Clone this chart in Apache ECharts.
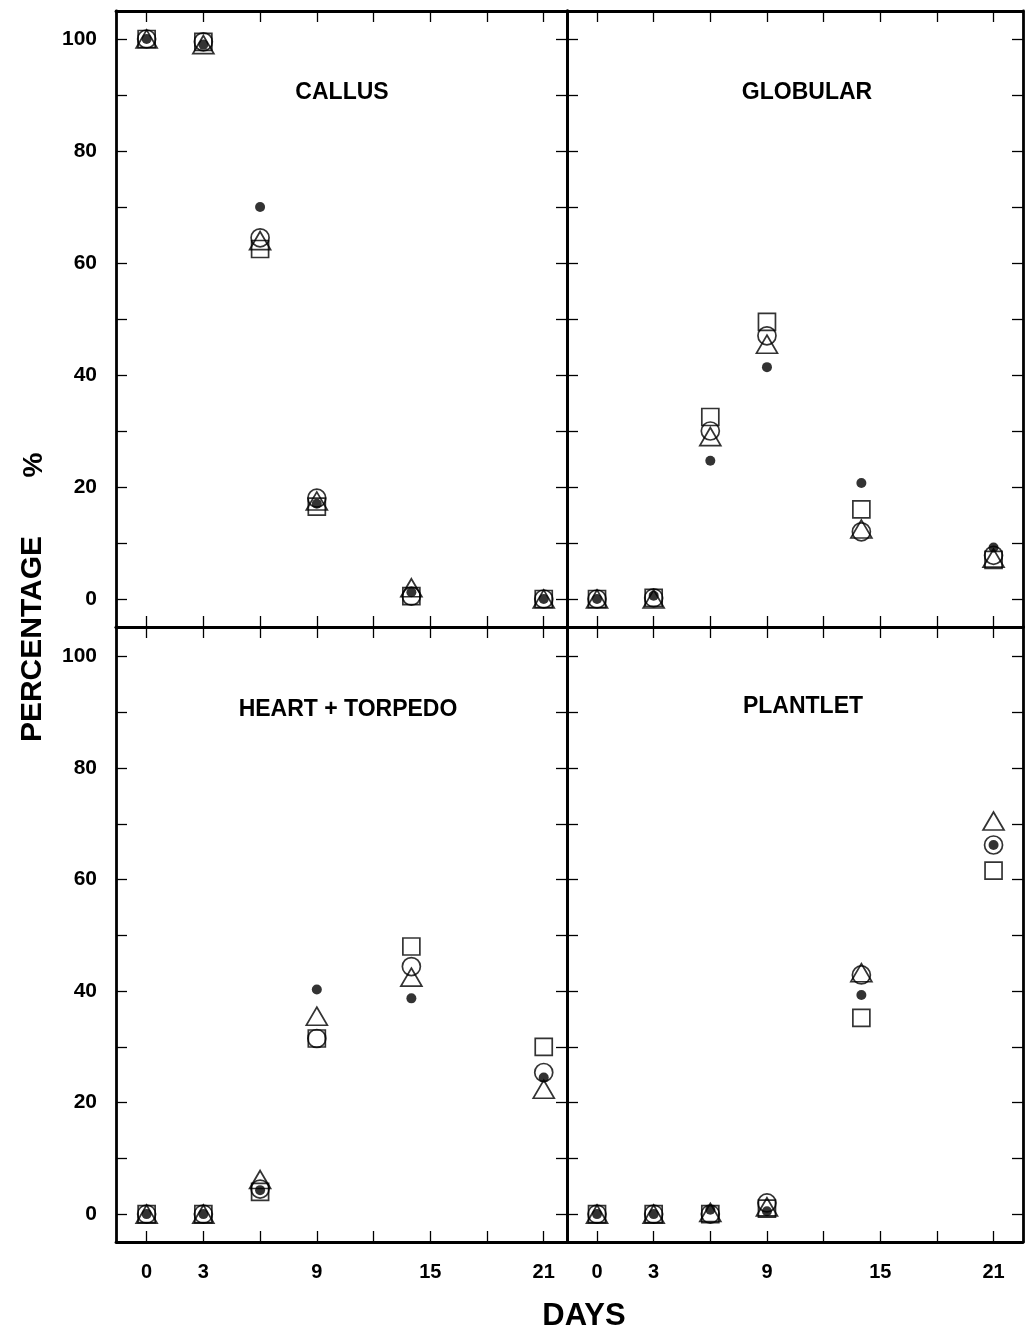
<!DOCTYPE html>
<html>
<head>
<meta charset="utf-8">
<script src="https://cdn.jsdelivr.net/npm/echarts@6/dist/echarts.min.js"></script>
<style>
html,body{margin:0;padding:0;background:#fff;}
#chart{width:1031px;height:1333px;}
</style>
</head>
<body>
<div id="chart"></div>
<script>
// ---- data ----
const days = [0, 3, 6, 9, 14, 21];
const xTickDays = [0, 3, 6, 9, 12, 15, 18, 21];
const xLabelDays = [0, 3, 9, 15, 21];
const yTicks = [0, 10, 20, 30, 40, 50, 60, 70, 80, 90, 100];
const yLabels = [0, 20, 40, 60, 80, 100];
const panelTitles = ['CALLUS', 'GLOBULAR', 'HEART + TORPEDO', 'PLANTLET'];

const callusSquare   = [100, 99.5, 62.5, 16.5, 0.5, 0];
const callusCircle   = [100, 99.5, 64.5, 18, 0.5, 0];
const callusTriangle = [100, 99, 64, 17.5, 2, 0];
const callusDot      = [100, 99, 70, 17, 1.2, 0];

const globularSquare   = [0, 0.2, 32.5, 49.5, 16, 7];
const globularCircle   = [0, 0.2, 30, 47, 12, 7.8];
const globularTriangle = [0, 0, 29, 45.5, 12.5, 7.3];
const globularDot      = [0, 0.6, 24.7, 41.4, 20.7, 9.2];

const heartSquare   = [0, 0, 4, 31.5, 48, 30];
const heartCircle   = [0, 0, 4.5, 31.5, 44.4, 25.4];
const heartTriangle = [0, 0, 6.2, 35.5, 42.5, 22.4];
const heartDot      = [0, 0, 4.3, 40.3, 38.7, 24.5];

const plantletSquare   = [0, 0, 0, 1, 35.2, 61.6];
const plantletCircle   = [0, 0, 0, 2, 42.9, 66.2];
const plantletTriangle = [0, 0, 0.3, 1.3, 43.3, 70.5];
const plantletDot      = [0, 0, 0.8, 0.5, 39.3, 66.2];

const panelData = [
  [callusSquare, callusCircle, callusTriangle, callusDot],
  [globularSquare, globularCircle, globularTriangle, globularDot],
  [heartSquare, heartCircle, heartTriangle, heartDot],
  [plantletSquare, plantletCircle, plantletTriangle, plantletDot]
];

// ---- layout ----
const FONT = '"Liberation Sans", Arial, Helvetica, sans-serif';
const grids = [
  {left: 116, top: 11, width: 451, height: 616},
  {left: 567, top: 11, width: 456, height: 616},
  {left: 116, top: 627, width: 451, height: 615},
  {left: 567, top: 627, width: 456, height: 615}
];
const xRanges = [[-1.62, 22.23], [-1.59, 22.56], [-1.62, 22.23], [-1.59, 22.56]];
const yRanges = [[-5, 105], [-5, 105], [-5, 105.3], [-5, 105.3]];
const titlePos = [[342, 93], [807, 93], [348, 710], [803, 707]];

const xAxes = [], yAxes = [], series = [];
const lineStyle = {color: '#000', width: 2.8};

for (let p = 0; p < 4; p++) {
  const isBottom = p >= 2;
  const isLeft = p % 2 === 0;
  ['bottom', 'top'].forEach(pos => {
    const showLabel = isBottom && pos === 'bottom';
    xAxes.push({
      type: 'value', gridIndex: p, position: pos,
      min: xRanges[p][0], max: xRanges[p][1],
      axisLine: {show: true, onZero: false, lineStyle: lineStyle},
      axisTick: {show: true, inside: true, length: 11, customValues: xTickDays,
                 lineStyle: {color: '#000', width: 1.3}},
      axisLabel: {show: showLabel, customValues: xLabelDays, margin: 20,
                  color: '#000', fontWeight: 'bold', fontSize: 20, fontFamily: FONT},
      splitLine: {show: false}
    });
  });
  ['left', 'right'].forEach(pos => {
    const showLabel = isLeft && pos === 'left';
    yAxes.push({
      type: 'value', gridIndex: p, position: pos,
      min: yRanges[p][0], max: yRanges[p][1],
      axisLine: {show: true, onZero: false, lineStyle: lineStyle},
      axisTick: {show: true, inside: true, length: 11, customValues: yTicks,
                 lineStyle: {color: '#000', width: 1.3}},
      axisLabel: {show: showLabel, customValues: yLabels, margin: 19,
                  color: '#000', fontWeight: 'bold', fontSize: 21, fontFamily: FONT},
      splitLine: {show: false}
    });
  });

  const sets = panelData[p];
  const styles = [
    {symbol: 'rect', symbolSize: 17, itemStyle: {color: 'rgba(0,0,0,0)', borderColor: '#000', borderWidth: 1.7}},
    {symbol: 'circle', symbolSize: 18, itemStyle: {color: 'rgba(0,0,0,0)', borderColor: '#000', borderWidth: 1.7}},
    {symbol: 'triangle', symbolSize: [21, 18], itemStyle: {color: 'rgba(0,0,0,0)', borderColor: '#000', borderWidth: 1.7}},
    {symbol: 'circle', symbolSize: 10, itemStyle: {color: '#000', borderWidth: 0}}
  ];
  for (let s = 0; s < 4; s++) {
    series.push(Object.assign({
      type: 'scatter',
      xAxisIndex: p * 2, yAxisIndex: p * 2,
      data: days.map((d, i) => [d, sets[s][i]]),
      silent: true,
      emphasis: {disabled: true},
      animation: false,
      z: 2 + s
    }, styles[s]));
  }
}

const graphics = panelTitles.map((t, i) => ({
  type: 'text', x: titlePos[i][0], y: titlePos[i][1],
  style: {text: t, font: 'bold 23px ' + FONT, fill: '#000',
          textAlign: 'center', textVerticalAlign: 'middle'}
}));
graphics.push({
  type: 'text', x: 33, y: 639, rotation: Math.PI / 2,
  style: {text: 'PERCENTAGE', font: 'bold 30px ' + FONT, fill: '#000',
          textAlign: 'center', textVerticalAlign: 'middle'}
});
graphics.push({
  type: 'text', x: 34, y: 465, rotation: Math.PI / 2,
  style: {text: '%', font: 'bold 28px ' + FONT, fill: '#000',
          textAlign: 'center', textVerticalAlign: 'middle'}
});
graphics.push({
  type: 'text', x: 584, y: 1316,
  style: {text: 'DAYS', font: 'bold 31px ' + FONT, fill: '#000',
          textAlign: 'center', textVerticalAlign: 'middle'}
});

const chart = echarts.init(document.getElementById('chart'), null, {renderer: 'canvas'});
chart.setOption({
  backgroundColor: '#fff',
  animation: false,
  grid: grids,
  xAxis: xAxes,
  yAxis: yAxes,
  series: series,
  graphic: graphics
});
</script>
</body>
</html>
